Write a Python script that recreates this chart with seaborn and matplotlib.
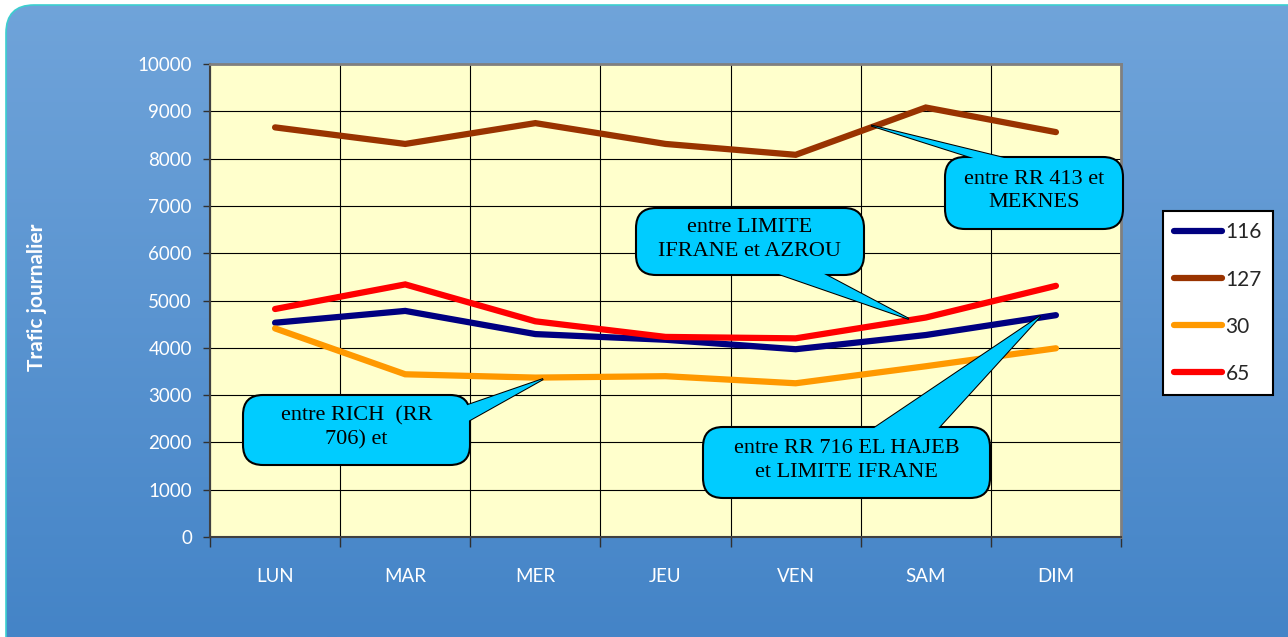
import numpy as np
import pandas as pd
import matplotlib.pyplot as plt
import matplotlib.transforms as mtrans
import seaborn as sns
from matplotlib.patches import FancyBboxPatch, Polygon

# ─── Data ─────────────────────────────────────────────────────────────────────
DAYS = ["LUN", "MAR", "MER", "JEU", "VEN", "SAM", "DIM"]
ROUTES = ["116", "127", "30", "65"]
r116 = [4530, 4780, 4290, 4170, 3970, 4270, 4690]
r127 = [8660, 8310, 8750, 8310, 8080, 9080, 8560]
r30 = [4410, 3440, 3370, 3400, 3250, 3610, 3990]
r65 = [4820, 5340, 4560, 4230, 4200, 4640, 5310]
COLORS = ["#000080", "#993300", "#FF9900", "#FF0000"]

# callout text, tip (data coords)
CALLOUT_TEXT = [
    "entre RR 413 et\nMEKNES",
    "entre LIMITE\nIFRANE et AZROU",
    "entre RICH  (RR\n706) et",
    "entre RR 716 EL HAJEB\net LIMITE IFRANE",
]
CALLOUT_TIP = [(4.58, 8700), (4.87, 4610), (2.06, 3340), (5.88, 4670)]

# callout box layout in pixels (top-left origin): x0, y0, x1, y1, base segment
CALLOUT_BOX = [
    (945, 157, 1123, 229, ((975, 157), (1021, 157))),
    (636, 208, 864, 275, ((770, 275), (827, 275))),
    (243, 395, 470, 465, ((470, 405), (470, 423))),
    (703, 427, 990, 498, ((872, 427), (943, 427))),
]

df = pd.DataFrame({
    "jour": DAYS * 4,
    "route": sum([[r] * len(DAYS) for r in ROUTES], []),
    "trafic": r116 + r127 + r30 + r65,
})

sns.set_style("white")
plt.rcParams["font.family"] = ["Lato", "DejaVu Sans"]

W, H = 1288, 637
fig = plt.figure(figsize=(W / 100, H / 100), dpi=100)
fig.patch.set_facecolor("white")
# pixel coords with top-left origin -> figure
px = mtrans.Affine2D().scale(1 / W, -1 / H).translate(0, 1) + fig.transFigure

# ─── Rounded gradient background ──────────────────────────────────────────────
bg = fig.add_axes([0, 0, 1, 1], zorder=-5)
bg.set_xlim(0, W)
bg.set_ylim(0, H)
bg.axis("off")
grad = np.linspace(0, 1, 256).reshape(-1, 1)
top_c = np.array([0x70, 0xA4, 0xDA]) / 255
bot_c = np.array([0x44, 0x84, 0xC7]) / 255
img = top_c * (1 - grad[..., None]) + bot_c * grad[..., None]
box = FancyBboxPatch((6, -60), W + 80, H - 5 + 60,
                     boxstyle="round,pad=0,rounding_size=28",
                     fc="none", ec="#3CCFCF", lw=1.2, transform=bg.transData)
bg.add_patch(box)
im = bg.imshow(img, extent=(0, W, 0, H), aspect="auto", origin="upper")
im.set_clip_path(box)

# ─── Main plot ────────────────────────────────────────────────────────────────
ax = fig.add_axes([210 / W, 1 - 537 / H, (1121 - 210) / W, (537 - 64) / H])
ax.set_facecolor("#FFFFCC")

sns.lineplot(data=df, x="jour", y="trafic", hue="route", hue_order=ROUTES,
             palette=COLORS, sort=False, linewidth=4.5, ax=ax,
             solid_capstyle="round", solid_joinstyle="miter")

ax.set_xlim(-0.5, len(DAYS) - 0.5)
ax.set_ylim(0, 10000)
ax.set_yticks(range(0, 10001, 1000))
ax.set_xticks(range(len(DAYS)))
ax.set_xticklabels(DAYS)
ax.set_xticks(np.arange(-0.5, len(DAYS), 1.0), minor=True)
ax.set_xlabel("")
ax.set_ylabel("")

ax.grid(True, axis="y", which="major", color="black", lw=0.8)
ax.grid(True, axis="x", which="minor", color="black", lw=0.8)
ax.set_axisbelow(True)

ax.tick_params(axis="y", which="major", direction="out", length=5, width=1,
               color="#303030", labelcolor="white", labelsize=13.5, pad=8, left=True)
ax.tick_params(axis="x", which="major", length=0, labelcolor="white",
               labelsize=13.5, pad=22)
ax.tick_params(axis="x", which="minor", direction="out", length=7, width=1,
               color="#303030", bottom=True)

for side in ["left", "bottom"]:
    ax.spines[side].set_color("#404040")
    ax.spines[side].set_linewidth(1.5)
for side in ["top", "right"]:
    ax.spines[side].set_color("#808080")
    ax.spines[side].set_linewidth(2)

fig.text(37 / W, 1 - 297 / H, "Trafic journalier", rotation=90, color="white",
         fontsize=15, fontweight="bold", ha="center", va="center")

# ─── Callouts ─────────────────────────────────────────────────────────────────
def to_px(xy):
    dx, dy = ax.transData.transform(xy)
    return dx * 100 / fig.dpi, H - dy * 100 / fig.dpi


for txt, tip, (x0, y0, x1, y1, base) in zip(CALLOUT_TEXT, CALLOUT_TIP, CALLOUT_BOX):
    cx, cy = (x0 + x1) / 2, (y0 + y1) / 2
    tx, ty = to_px(tip)
    # push the wedge base a little inside the box so the joint has no border
    pts = []
    for bx, by in base:
        vx, vy = cx - bx, cy - by
        n = np.hypot(vx, vy)
        pts.append((bx + 6 * vx / n, by + 6 * vy / n))
    tri = [pts[0], (tx, ty), pts[1]]
    ax.add_patch(Polygon(tri, closed=True, fc="#00CCFF", ec="black", lw=1.5,
                         transform=px, clip_on=False, zorder=9))
    ax.add_patch(FancyBboxPatch((x0, y0), x1 - x0, y1 - y0,
                                boxstyle="round,pad=0,rounding_size=20",
                                fc="#00CCFF", ec="black", lw=1.5,
                                transform=px, clip_on=False, zorder=10))
    ax.add_patch(Polygon(tri, closed=True, fc="#00CCFF", ec="none",
                         transform=px, clip_on=False, zorder=11))
    ax.text(cx, cy - 2, txt, transform=px, ha="center", va="center",
            multialignment="center", fontsize=16, family=["Liberation Serif"],
            color="black", linespacing=1.3, zorder=12)

# ─── Legend ───────────────────────────────────────────────────────────────────
handles, labels = ax.get_legend_handles_labels()
for h in handles:
    h.set_linewidth(4.5)
    h.set_solid_capstyle("round")
leg = ax.legend(handles, labels, loc="upper left",
                bbox_to_anchor=(1163 / W, 1 - 211 / H),
                bbox_transform=fig.transFigure, borderaxespad=0,
                frameon=True, fancybox=False, fontsize=15,
                handlelength=2.3, handletextpad=0.15, labelspacing=1.3,
                borderpad=0.55)
leg.get_frame().set_edgecolor("black")
leg.get_frame().set_linewidth(1.5)
leg.get_frame().set_facecolor("white")
leg.get_frame().set_alpha(1)

fig.savefig("out.png", dpi=100)
